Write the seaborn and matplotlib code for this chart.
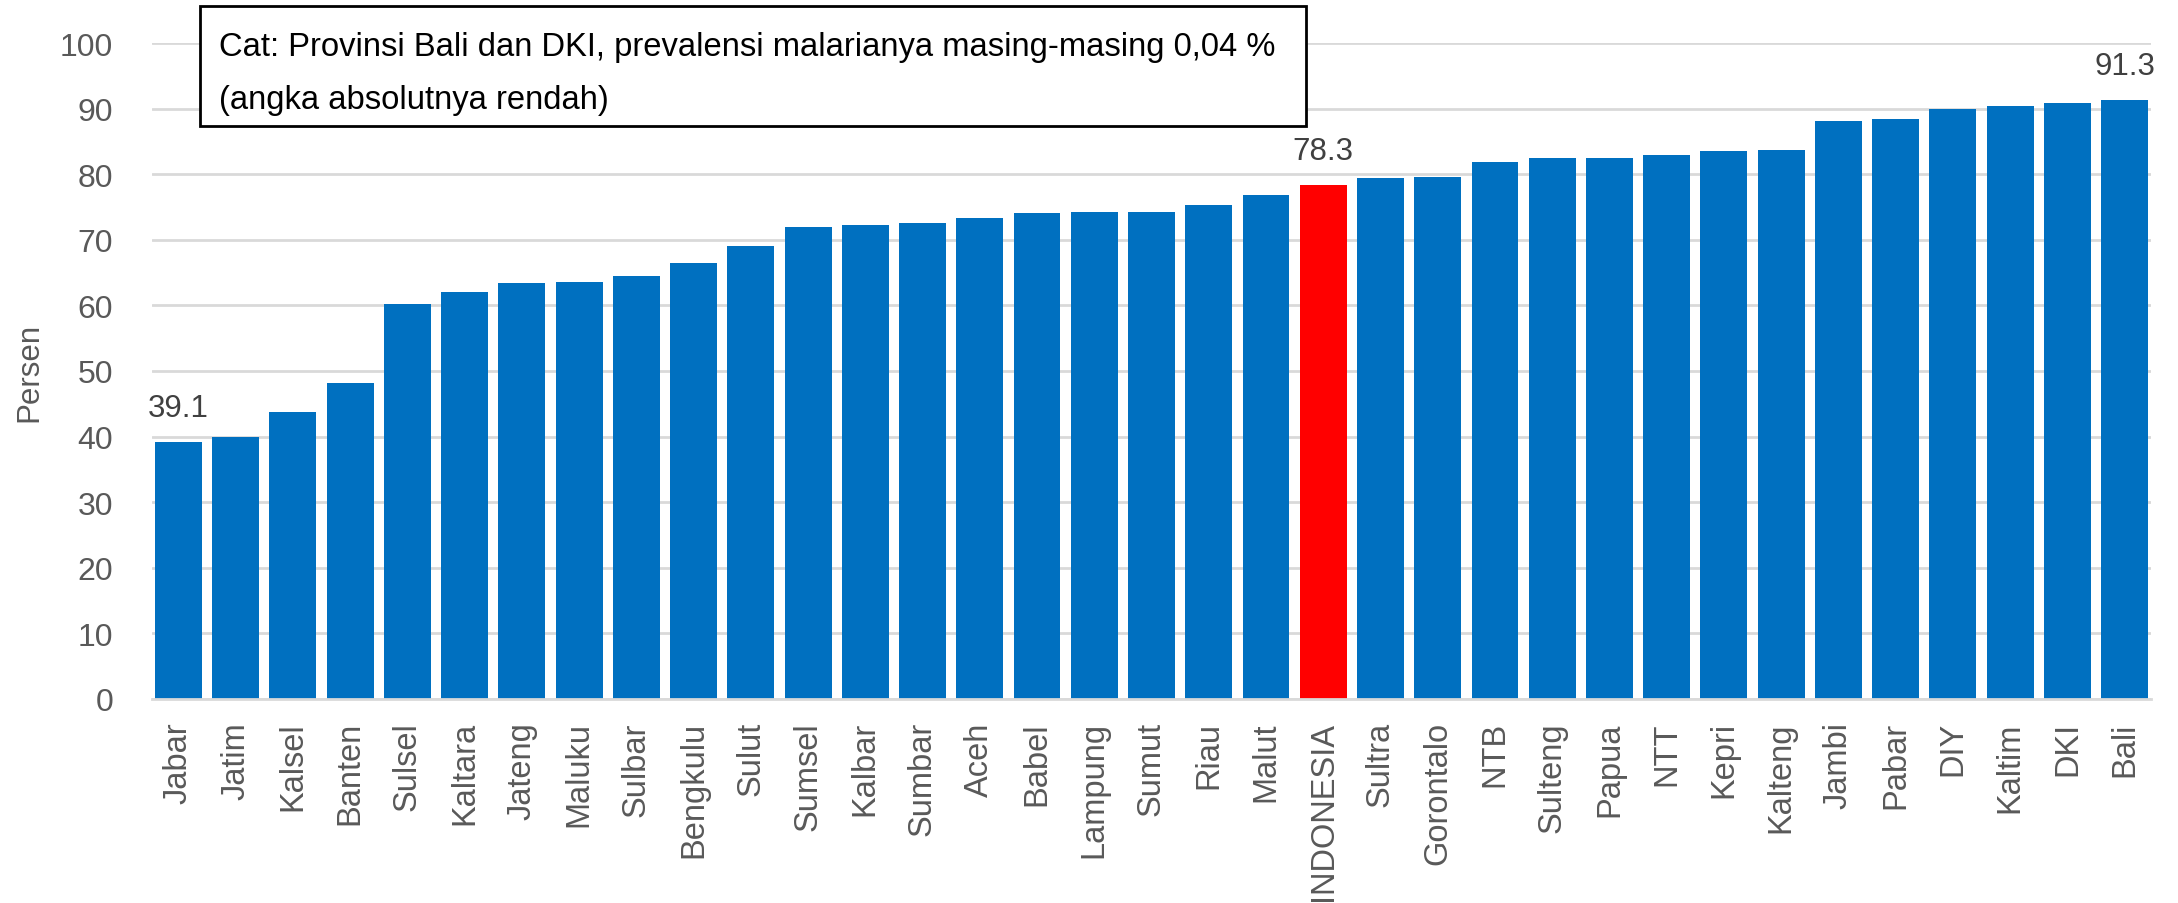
import pandas as pd
import matplotlib
matplotlib.use("Agg")
import matplotlib.pyplot as plt
from matplotlib.patches import Rectangle
import seaborn as sns

# Provinces, sorted from lowest to highest
provinces = [
    "Jabar", "Jatim", "Kalsel", "Banten", "Sulsel", "Kaltara", "Jateng", "Maluku",
    "Sulbar", "Bengkulu", "Sulut", "Sumsel", "Kalbar", "Sumbar", "Aceh", "Babel",
    "Lampung", "Sumut", "Riau", "Malut", "INDONESIA", "Sultra", "Gorontalo", "NTB",
    "Sulteng", "Papua", "NTT", "Kepri", "Kalteng", "Jambi", "Pabar", "DIY",
    "Kaltim", "DKI", "Bali",
]
persen = [
    39.1, 39.9, 43.8, 48.1, 60.2, 62.1, 63.4, 63.6,
    64.5, 66.5, 69.1, 72.0, 72.2, 72.6, 73.3, 74.1,
    74.2, 74.3, 75.3, 76.8, 78.3, 79.4, 79.6, 81.9,
    82.5, 82.5, 83.0, 83.6, 83.7, 88.1, 88.4, 89.9,
    90.4, 90.9, 91.3,
]
labelled = ["Jabar", "INDONESIA", "Bali"]
note_lines = ["Cat: Provinsi Bali dan DKI, prevalensi malarianya masing-masing 0,04 %",
              "(angka absolutnya rendah)"]

df = pd.DataFrame({"Provinsi": provinces, "Persen": persen})
colors = {p: ("#FF0000" if p == "INDONESIA" else "#0070C0") for p in provinces}

sns.set_theme(style="white")
plt.rcParams["font.family"] = ["Liberation Sans", "DejaVu Sans"]

W, H = 2178, 904
fig = plt.figure(figsize=(W / 100, H / 100), dpi=100)
ax = fig.add_axes([0.0698, 0.2257, 0.9178, 0.7256])

sns.barplot(data=df, x="Provinsi", y="Persen", hue="Provinsi", palette=colors,
            legend=False, width=0.82, saturation=1, linewidth=0, ax=ax)

ax.set_ylim(0, 100)
ax.set_xlim(-0.46, len(provinces) - 0.54)
ax.set_yticks(range(0, 101, 10))
ax.yaxis.grid(True, color="#d9d9d9", linewidth=2)
ax.set_axisbelow(True)
for side in ["top", "right", "left"]:
    ax.spines[side].set_visible(False)
ax.spines["bottom"].set_color("#d9d9d9")
ax.spines["bottom"].set_linewidth(2)

ax.tick_params(axis="y", length=0, pad=28, labelsize=23, labelcolor="#595959")
ax.tick_params(axis="x", length=0, pad=16, labelsize=23.5, labelcolor="#595959",
               labelrotation=90)
ax.set_xlabel("")
ax.set_ylabel("")
fig.text(29 / W, 1 - 372 / H, "Persen", rotation=90, ha="center", va="center",
         fontsize=22.5, color="#595959")

# value labels on selected bars
for i, (p, v) in enumerate(zip(provinces, persen)):
    if p in labelled:
        ax.annotate(f"{v:.1f}", (i, v), xytext=(0, 14), textcoords="offset points",
                    ha="center", va="bottom", fontsize=22.5, color="#404040")

# note box
fig.patches.append(Rectangle((200 / W, 1 - 127 / H), 1106 / W, 120 / H,
                             transform=fig.transFigure, facecolor="white",
                             edgecolor="black", linewidth=2, zorder=5))
for k, line in enumerate(note_lines):
    fig.text(219 / W, 1 - (56 + 53 * k) / H, line, ha="left", va="baseline",
             fontsize=23.6, color="black", zorder=6)

fig.savefig("out.png", dpi=100)
